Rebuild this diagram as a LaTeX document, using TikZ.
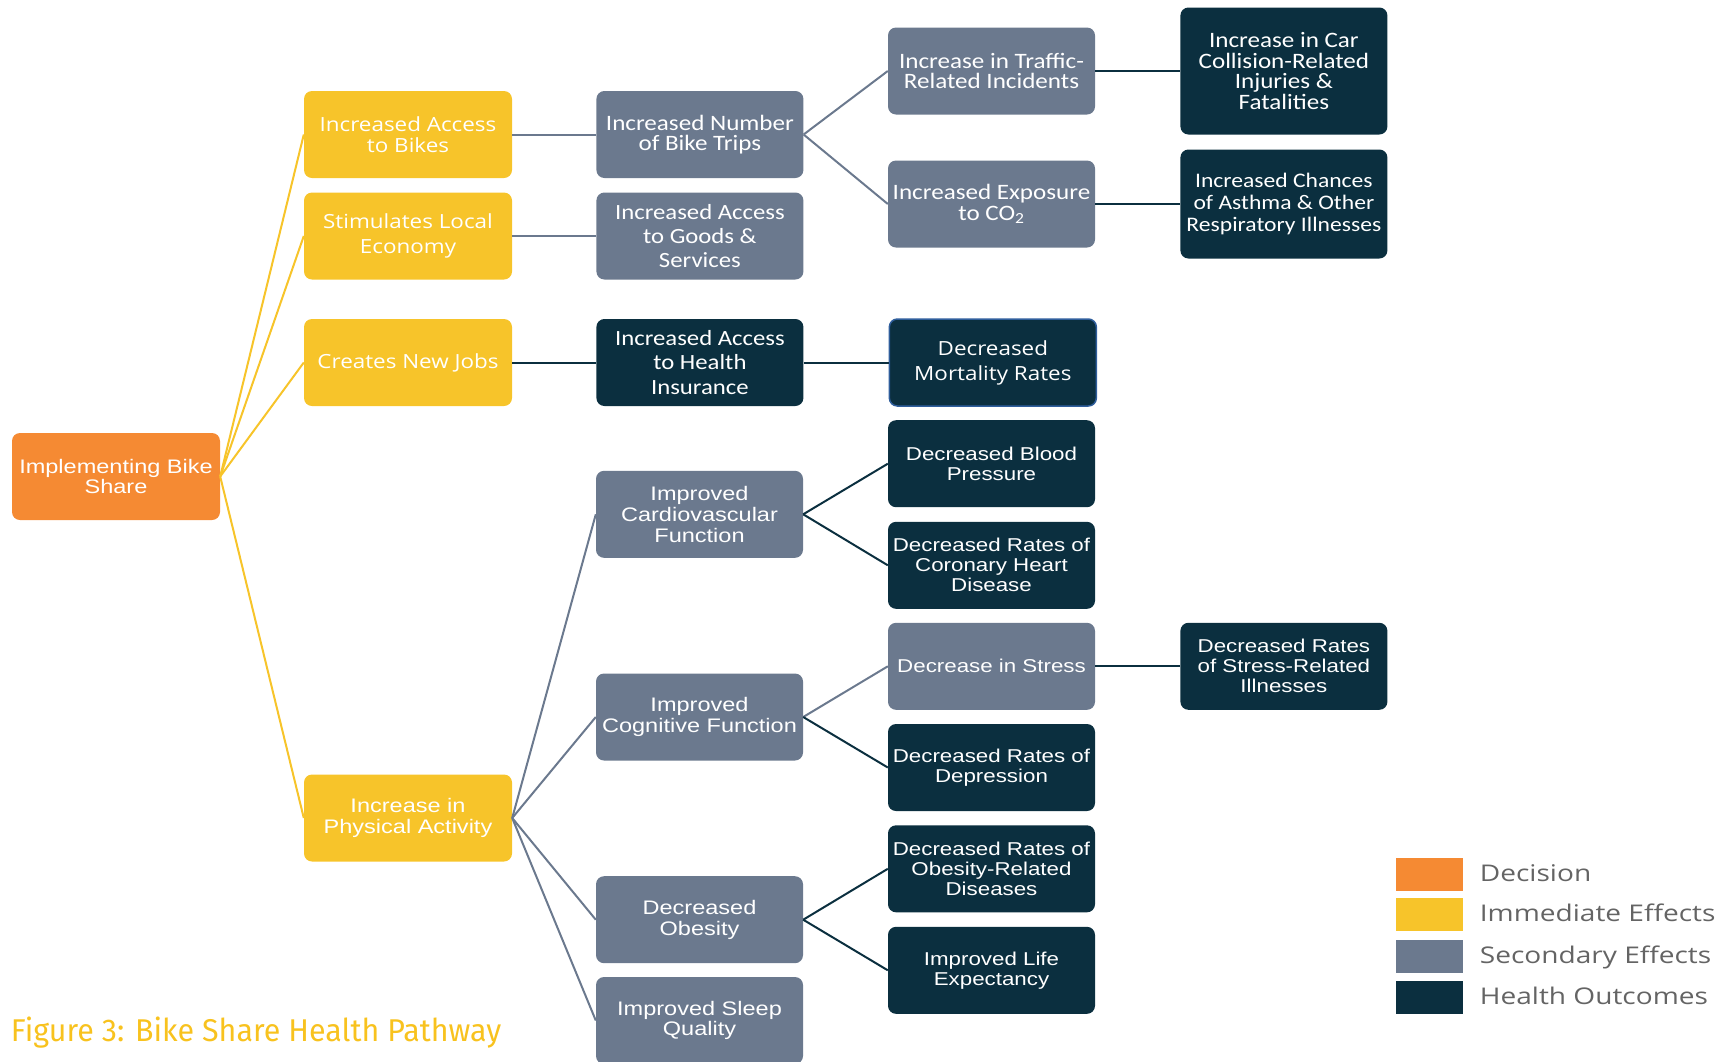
\documentclass[tikz,border=0pt]{standalone}
\usepackage{fontspec}
\usepackage{xcolor}
\usepackage{tikz}
\usetikzlibrary{positioning}
\newfontfamily\arialfont[FakeStretch=1.2]{Liberation Sans}
\newfontfamily\calfont[FakeStretch=1.14]{Carlito}
\newfontfamily\opensfont[FakeStretch=1.15]{Open Sans}
\newfontfamily\legfont[FakeStretch=1.22]{Open Sans}
\newfontfamily\capfont[FakeStretch=0.965]{Fira Sans}
\definecolor{decisionc}{HTML}{F58A33}
\definecolor{immediatec}{HTML}{F7C42A}
\definecolor{secondaryc}{HTML}{6B798E}
\definecolor{outcomec}{HTML}{0B2F3F}
\definecolor{legendtext}{HTML}{646464}
\definecolor{captionc}{HTML}{F8C21E}
\definecolor{mortborder}{HTML}{2F5E9C}
\tikzset{
    box/.style={rectangle, rounded corners=8pt, text=white, align=center, minimum width=207pt, minimum height=87pt, inner sep=2pt},
    decision/.style={box, fill=decisionc, minimum width=208pt},
    immediate/.style={box, fill=immediatec, minimum width=208pt},
    secondary/.style={box, fill=secondaryc},
    outcome/.style={box, fill=outcomec},
    arialtxt/.style={font=\arialfont\fontsize{18.6}{20}\selectfont},
    arialbig/.style={font=\arialfont\fontsize{19.6}{20.8}\selectfont},
    caltxt/.style={font=\calfont\fontsize{22}{20.5}\selectfont},
    calwide/.style={font=\calfont\fontsize{21.7}{24.3}\selectfont},
    opentxt/.style={font=\opensfont\fontsize{19.5}{20.5}\selectfont},
    openwide/.style={font=\opensfont\fontsize{19.5}{25}\selectfont},
    toImm/.style={draw=immediatec, line width=2pt},
    toSec/.style={draw=secondaryc, line width=2pt},
    toOut/.style={draw=outcomec, line width=2pt},
    legbox/.style={rectangle, minimum width=67pt, minimum height=32.5pt, inner sep=0pt},
    legtext/.style={text=legendtext, font=\legfont\fontsize{23}{25}\selectfont, inner sep=0pt, text height=14pt, text depth=0pt}
}

\begin{document}
\begin{tikzpicture}[x=1pt, y=-1pt]
        \useasboundingbox (0,0) rectangle (1730,1061);

        \node[decision, arialbig] (Decision) at (116,476.5) {Implementing Bike\\Share};

        \node[immediate, opentxt] (Bikes) at (408,134.5) {Increased Access\\to Bikes};
        \node[immediate, openwide] (Economy) at (408,236) {Stimulates Local\\Economy};
        \node[immediate, opentxt] (Jobs) at (408,362.5) {Creates New Jobs};
        \node[immediate, arialbig] (Physical) at (408,818) {Increase in\\Physical Activity};

        \node[secondary, caltxt, right=84pt of Bikes] (Trips) {Increased Number\\of Bike Trips};
        \node[secondary, calwide, right=84pt of Economy] (Goods) {Increased Access\\to Goods \&\\Services};
        \node[outcome, calwide, right=84pt of Jobs] (Insurance) {Increased Access\\to Health\\Insurance};
        \node[secondary, arialbig] (Cardio) at (699.5,514.3) {Improved\\Cardiovascular\\Function};
        \node[secondary, arialbig] (Cognitive) at (699.5,717) {Improved\\Cognitive Function};
        \node[secondary, arialbig] (Obesity) at (699.5,919.7) {Decreased\\Obesity};
        \node[secondary, arialbig] (Sleep) at (699.5,1020.5) {Improved Sleep\\Quality};

        \node[secondary, caltxt] (Traffic) at (991.5,71) {Increase in Traffic-\\Related Incidents};
        \node[secondary, caltxt] (Exposure) at (991.5,204) {Increased Exposure\\to CO\textsubscript{2}};
        \node[outcome, openwide, draw=mortborder, line width=1.5pt, right=85pt of Insurance] (Mortality) {Decreased\\Mortality Rates};
        \node[outcome, arialtxt] (Blood) at (991.5,463.7) {Decreased Blood\\Pressure};
        \node[outcome, arialtxt] (Coronary) at (991.5,565.3) {Decreased Rates of\\Coronary Heart\\Disease};
        \node[secondary, arialtxt] (Stress) at (991.5,666.3) {Decrease in Stress};
        \node[outcome, arialtxt] (Depression) at (991.5,767.5) {Decreased Rates of\\Depression};
        \node[outcome, arialtxt] (ObDiseases) at (991.5,868.8) {Decreased Rates of\\Obesity-Related\\Diseases};
        \node[outcome, arialtxt] (Life) at (991.5,970.3) {Improved Life\\Expectancy};

        \node[outcome, caltxt, minimum height=127pt, right=85pt of Traffic] (Collision) {Increase in Car\\Collision-Related\\Injuries \&\\Fatalities};
        \node[outcome, caltxt, font=\calfont\fontsize{20.7}{21.7}\selectfont, minimum height=109pt, right=85pt of Exposure] (Asthma) {Increased Chances\\of Asthma \& Other\\Respiratory Illnesses};
        \node[outcome, arialtxt, right=85pt of Stress] (StressIll) {Decreased Rates\\of Stress-Related\\Illnesses};

        \draw[toImm] (Decision.east) -- (Bikes.west);
        \draw[toImm] (Decision.east) -- (Economy.west);
        \draw[toImm] (Decision.east) -- (Jobs.west);
        \draw[toImm] (Decision.east) -- (Physical.west);

        \draw[toSec] (Bikes) -- (Trips);
        \draw[toSec] (Economy) -- (Goods);
        \draw[toOut] (Jobs) -- (Insurance);
        \draw[toSec] (Physical.east) -- (Cardio.west);
        \draw[toSec] (Physical.east) -- (Cognitive.west);
        \draw[toSec] (Physical.east) -- (Obesity.west);
        \draw[toSec] (Physical.east) -- (Sleep.west);

        \draw[toSec] (Trips.east) -- (Traffic.west);
        \draw[toSec] (Trips.east) -- (Exposure.west);
        \draw[toOut] (Insurance) -- (Mortality);
        \draw[toOut] (Cardio.east) -- (Blood.west);
        \draw[toOut] (Cardio.east) -- (Coronary.west);
        \draw[toSec] (Cognitive.east) -- (Stress.west);
        \draw[toOut] (Cognitive.east) -- (Depression.west);
        \draw[toOut] (Obesity.east) -- (ObDiseases.west);
        \draw[toOut] (Obesity.east) -- (Life.west);

        \draw[toOut] (Traffic) -- (Collision);
        \draw[toOut] (Exposure) -- (Asthma);
        \draw[toOut] (Stress) -- (StressIll);

        % legend
        \node[legbox, fill=decisionc] (LegDecision) at (1429,874.5) {};
        \node[legbox, fill=immediatec] (LegImmediate) at (1429,914.5) {};
        \node[legbox, fill=secondaryc] (LegSecondary) at (1429,956.3) {};
        \node[legbox, fill=outcomec] (LegOutcome) at (1429,997.3) {};
        \node[legtext, right=17pt of LegDecision] {Decision};
        \node[legtext, right=17pt of LegImmediate] {Immediate Effects};
        \node[legtext, right=17pt of LegSecondary] {Secondary Effects};
        \node[legtext, right=17pt of LegOutcome] {Health Outcomes};

        \node[anchor=base west, inner sep=0pt, text=captionc, font=\capfont\fontsize{31.5}{32}\selectfont] (Caption) at (10.7,1041) {Figure 3: Bike Share Health Pathway};
    \end{tikzpicture}
\end{document}
